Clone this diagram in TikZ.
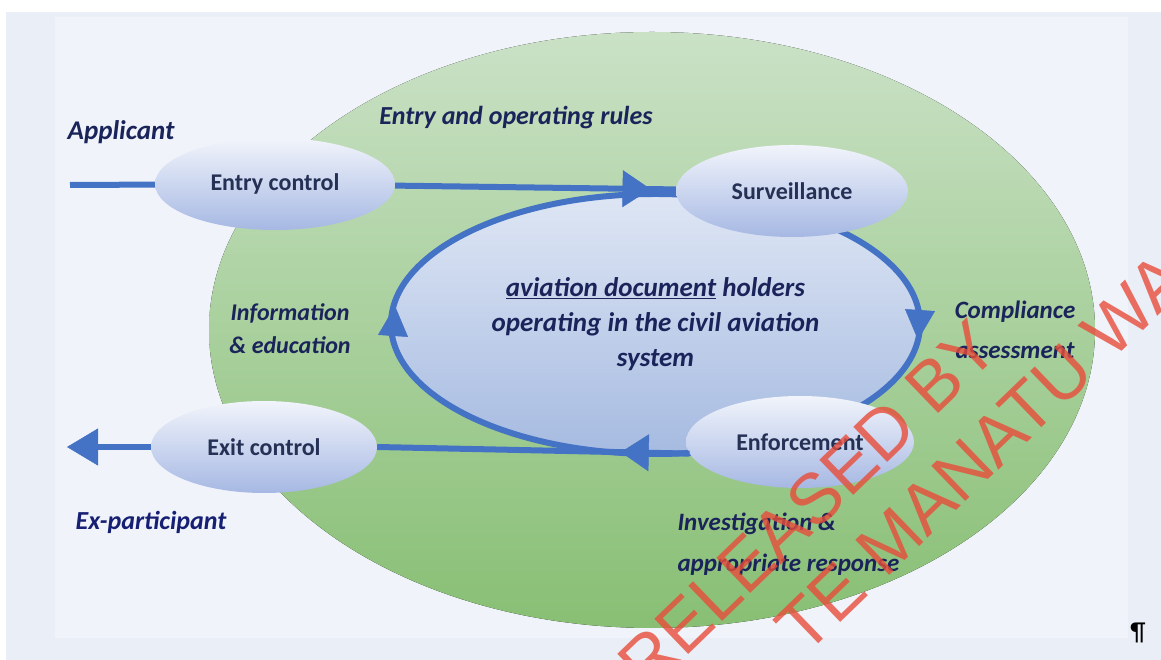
\documentclass[tikz,border=0pt]{standalone}
\usepackage{fontspec}
\setmainfont{Carlito}
\newfontfamily\policetampon{Liberation Sans}
\usetikzlibrary{shapes.geometric,arrows.meta,decorations.markings}

\definecolor{fondpr}{RGB}{234,239,247}
\definecolor{fondclair}{RGB}{240,244,250}
\definecolor{vertclair}{RGB}{202,225,198}
\definecolor{vertfonce}{RGB}{136,191,116}
\definecolor{bleupr}{RGB}{68,114,196}
\definecolor{bleuhaut}{RGB}{222,230,244}
\definecolor{bleubas}{RGB}{166,187,225}
\definecolor{nuagehaut}{RGB}{241,244,251}
\definecolor{nuagebas}{RGB}{166,184,227}
\definecolor{textepr}{RGB}{26,36,90}
\definecolor{noeudpr}{RGB}{36,48,84}
\definecolor{rougepr}{RGB}{232,76,58}

\tikzset{
  etape/.style={ellipse, minimum height=92pt, top color=nuagehaut, bottom color=nuagebas,
    font=\fontsize{24}{28}\selectfont\bfseries, text=noeudpr},
  flux/.style={line width=6pt, draw=bleupr},
  fleche/.style={postaction={decorate}, decoration={markings,
    mark=at position #1 with {\arrow{Triangle[length=28pt,width=37pt,line width=0.5pt]}}}},
  pointe/.style={-{Triangle[length=30pt,width=30pt,line width=0.5pt]}},
  libelle/.style={font=\fontsize{26}{40}\selectfont\bfseries\itshape, text=textepr, align=center},
  tampon/.style={font=\policetampon\fontsize{71}{71}\selectfont, text=rougepr, opacity=0.8, inner sep=0pt}
}

\begin{document}
\begin{tikzpicture}[x=1pt,y=1pt]
  \useasboundingbox (0,0) rectangle (1161,660);
  \clip (0,0) rectangle (1161,660);

  % Fond
  \fill[white] (0,0) rectangle (1161,660);
  \fill[fondpr] (6,0) rectangle (1161,648);
  \fill[fondclair] (55,22) rectangle (1128,643);
  \fill[top color=vertclair, bottom color=vertfonce] (652,330) ellipse [x radius=443, y radius=298];

  % Boucle centrale
  \node[ellipse, draw=bleupr, line width=6pt, minimum width=529pt, minimum height=260pt,
    inner sep=0pt, outer sep=0pt, top color=bleuhaut, bottom color=bleubas,
    font=\fontsize{27}{35}\selectfont\bfseries\itshape, text=textepr, align=center]
    (titulaires) at (655.5,336)
    {\underline{aviation document} holders\\operating in the civil aviation\\system};

  % Ellipses
  \node[etape, minimum width=240pt] (entree) at (275,476) {Entry control};
  \node[etape, minimum width=232pt] (surveillance) at (792,469) {Surveillance};
  \node[etape, minimum width=228pt] (execution) at (800,218) {Enforcement};
  \node[etape, minimum width=226pt] (sortie) at (264,213) {Exit control};
  \coordinate (depart) at (70,475);
  \coordinate (fin) at (67,213);

  % Flèches
  \draw[flux] (depart) -- (entree);
  \draw[flux, fleche=0.91] (entree) -- (surveillance);
  \draw[flux, fleche=0.22] (execution.186) -- (sortie.east);
  \draw[flux, -{Triangle[length=31pt,width=37pt,line width=0.5pt]}] (sortie) -- (fin);
  \draw[flux, pointe] ([yshift=14pt]titulaires.east) -- ([xshift=-2pt,yshift=-16pt]titulaires.east);
  \draw[flux, pointe] ([xshift=2pt,yshift=-12pt]titulaires.west) -- ([xshift=4pt,yshift=18pt]titulaires.west);

  % Textes
  \node[libelle, font=\fontsize{27}{34}\selectfont\bfseries\itshape] (candidat) at (121,528) {Applicant};
  \node[libelle] (regles) at (516,542) {Entry and operating rules};
  \node[libelle, font=\fontsize{24}{33}\selectfont\bfseries\itshape] (information) at (290,331) {Information\\\& education};
  \node[libelle, font=\fontsize{25}{40}\selectfont\bfseries\itshape] (conformite) at (1015,330) {Compliance\\assessment};
  \node[libelle, align=left, anchor=west, font=\fontsize{25}{41}\selectfont\bfseries\itshape] (enquete) at (674,116) {Investigation \&\\appropriate response};
  \node[libelle, text=textepr!85!blue] (ancien) at (151,138) {Ex-participant};
  \node[font=\fontsize{26}{26}\selectfont, text=black] (pied) at (1138,27) {¶};

  % Tampon
  \node[tampon, rotate=44] (liberation) at (808,155) {RELEASED BY};
  \node[tampon, rotate=44] (ministere) at (1016,240) {TE MANATU WAKA};
\end{tikzpicture}
\end{document}
